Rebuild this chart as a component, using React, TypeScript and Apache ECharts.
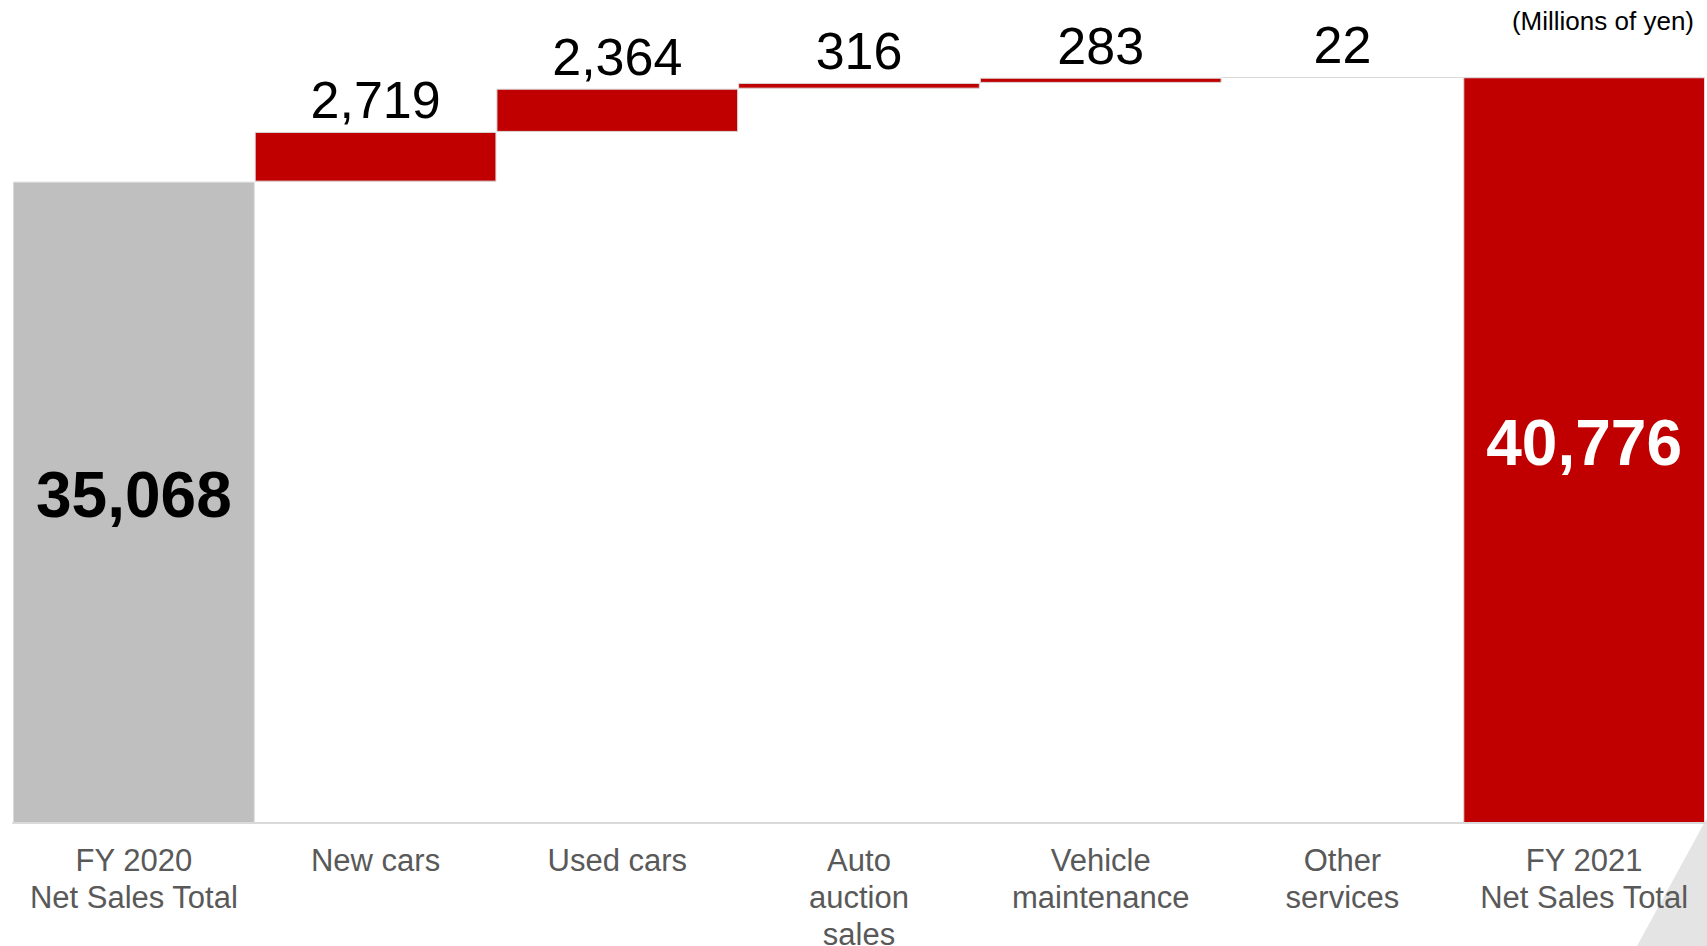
import React, { useEffect, useRef } from "react";
import * as echarts from "echarts";

const categories = [
  "FY 2020\nNet Sales Total",
  "New cars",
  "Used cars",
  "Auto\nauction\nsales",
  "Vehicle\nmaintenance",
  "Other\nservices",
  "FY 2021\nNet Sales Total",
];
const startTotal = 35068;
const increments = [2719, 2364, 316, 283, 22];
const endTotal = 40776;
const unitLabel = "(Millions of yen)";

const RED = "#C00000";
const GRAY = "#BFBFBF";
const FONT = "'Liberation Sans', Arial, sans-serif";

const fmt = (p: any) => Number(p.value).toLocaleString("en-US");

export default function App() {
  const ref = useRef<HTMLDivElement>(null);
  useEffect(() => {
    if (!ref.current) return;
    const chart = echarts.init(ref.current, null, { renderer: "svg" });

    const bases: number[] = [0];
    let run = startTotal;
    increments.forEach((v) => {
      bases.push(run);
      run += v;
    });
    bases.push(0);

    const deltaData: any[] = [
      {
        value: startTotal,
        itemStyle: { color: GRAY },
        label: {
          show: true,
          position: "inside",
          offset: [0, -7],
          fontSize: 64,
          fontWeight: "bold",
          color: "#000",
          fontFamily: FONT,
          formatter: fmt,
        },
      },
      ...increments.map((v) => ({
        value: v,
        itemStyle: { color: RED },
        label: {
          show: true,
          position: "top",
          distance: 6,
          fontSize: 52,
          color: "#000",
          fontFamily: FONT,
          formatter: fmt,
        },
      })),
      {
        value: endTotal,
        itemStyle: { color: RED },
        label: {
          show: true,
          position: "inside",
          offset: [0, -7],
          fontSize: 64,
          fontWeight: "bold",
          color: "#fff",
          fontFamily: FONT,
          formatter: fmt,
        },
      },
    ];

    chart.setOption({
      animation: false,
      backgroundColor: "#fff",
      grid: {
        left: 13,
        right: 2,
        top: 0,
        bottom: 123,
        containLabel: false,
        outerBoundsMode: "none",
      },
      xAxis: {
        type: "category",
        data: categories,
        axisLine: { show: true, lineStyle: { color: "#D9D9D9", width: 2 } },
        axisTick: { show: false },
        axisLabel: {
          interval: 0,
          fontSize: 31,
          lineHeight: 37,
          color: "#595959",
          fontFamily: FONT,
          margin: 19,
        },
        z: 5,
      },
      yAxis: {
        type: "value",
        min: 0,
        max: 45000,
        show: false,
        splitLine: { show: false },
      },
      graphic: [
        {
          type: "polygon",
          z: -10,
          shape: {
            points: [
              [1637, 946],
              [1707, 818],
              [1707, 946],
            ],
          },
          style: { fill: "#E4E4E4" },
        },
        {
          type: "text",
          right: 13,
          top: 8,
          style: {
            text: unitLabel,
            fontSize: 26,
            fill: "#000",
            fontFamily: FONT,
          },
        },
      ],
      series: [
        {
          type: "bar",
          stack: "wf",
          silent: true,
          itemStyle: { color: "transparent" },
          barCategoryGap: 0,
          data: bases,
        },
        {
          type: "bar",
          stack: "wf",
          barCategoryGap: 0,
          itemStyle: { borderColor: "#D9D9D9", borderWidth: 1 },
          data: deltaData,
        },
      ],
    });
    return () => chart.dispose();
  }, []);
  return (
    <div
      ref={ref}
      style={{ position: "fixed", left: 0, top: 0, width: 1707, height: 946 }}
    />
  );
}
